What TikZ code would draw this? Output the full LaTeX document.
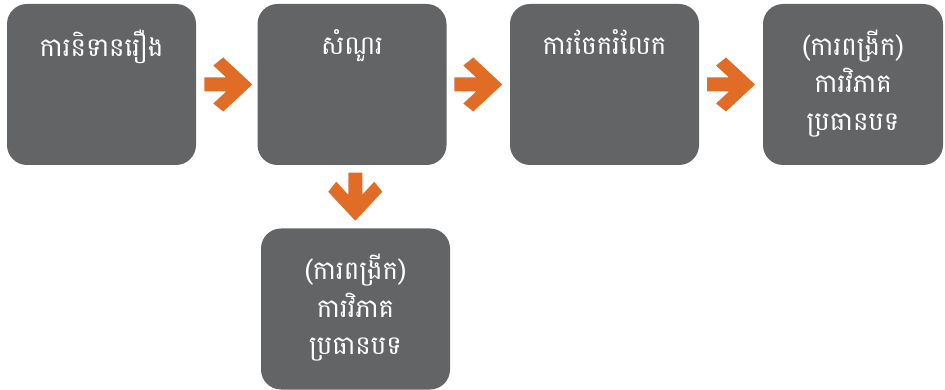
\documentclass[tikz,border=0pt]{standalone}
\usepackage{fontspec}
\newfontfamily\khmerfont[Script=Khmer]{Battambang}
\usetikzlibrary{calc}
\definecolor{boxgray}{RGB}{99,100,102}
\definecolor{arroworange}{RGB}{224,108,38}
\tikzset{
  box/.style={fill=boxgray, draw=none, rounded corners=20pt, minimum width=189pt, minimum height=161pt, inner sep=0pt},
  boxtext/.style={text=white, align=center, anchor=north, inner sep=0pt,
    font={\khmerfont\fontsize{26pt}{37.5pt}\selectfont}},
  blockarrow/.pic={
    \fill[arroworange] (-24,-7) -- (-2,-7) -- (-15,-19) -- (-5,-27) -- (24,0)
      -- (-5,27) -- (-15,19) -- (-2,7) -- (-24,7) -- cycle;
  }
}
\begin{document}
\begin{tikzpicture}[x=1pt,y=-1pt]
\useasboundingbox (0,0) rectangle (945,390);
\node[box] (b1) at (101.5,84.5) {};
\node[box] (b2) at (352,84.5) {};
\node[box] (b3) at (604.5,84.5) {};
\node[box, minimum width=180pt] (b4) at (853,84.5) {};
\node[box] (b5) at (355.5,309) {};
\node[boxtext] (t1) at ($(b1.north)+(0,26)$) {ការនិទានរឿង};
\node[boxtext] (t2) at ($(b2.north)+(0,26)$) {សំណួរ};
\node[boxtext] (t3) at ($(b3.north)+(0,26)$) {ការចែករំលែក};
\node[boxtext] (t4) at ($(b4.north)+(0,26)$) {(ការពង្រីក)\\ការវិភាគ\\ប្រធានបទ};
\node[boxtext] (t5) at ($(b5.north)+(0,26)$) {(ការពង្រីក)\\ការវិភាគ\\ប្រធានបទ};
\pic at ($(b1.east)!0.5!(b2.west)+(1.5,0)$) {blockarrow};
\pic at ($(b2.east)!0.5!(b3.west)$) {blockarrow};
\pic at ($(b3.east)!0.5!(b4.west)$) {blockarrow};
\pic[rotate=-90] at ($(b2.south)!0.5!(b5.north)+(1.5,0)$) {blockarrow};
\end{tikzpicture}
\end{document}
